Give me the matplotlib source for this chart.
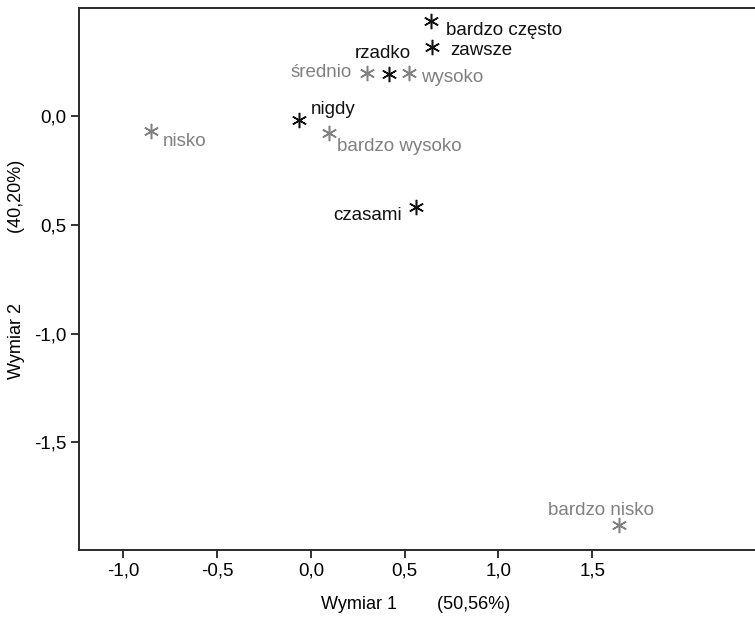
import matplotlib
matplotlib.use("Agg")
import matplotlib.pyplot as plt

plt.rcParams['font.family'] = ['Liberation Sans', 'DejaVu Sans']

# Współrzędne kategorii (wymiar 1, wymiar 2)
labels_black = ['bardzo często', 'zawsze', 'rzadko', 'nigdy', 'czasami']
x_black = [0.640, 0.645, 0.416, -0.064, 0.560]
y_black = [0.441, 0.320, 0.196, -0.016, -0.416]

labels_grey = ['średnio', 'wysoko', 'bardzo wysoko', 'nisko', 'bardzo nisko']
x_grey = [0.299, 0.523, 0.096, -0.853, 1.643]
y_grey = [0.200, 0.200, -0.076, -0.067, -1.880]

x_ticks = [-1.0, -0.5, 0.0, 0.5, 1.0, 1.5]
x_tick_labels = ['-1,0', '-0,5', '0,0', '0,5', '1,0', '1,5']
y_ticks = [0.0, -0.5, -1.0, -1.5]
y_tick_labels = ['0,0', '0,5', '-1,0', '-1,5']

# przesunięcia podpisów w pikselach (dx, dy, wyrównanie)
offsets_black = [(15, -10, 'left'), (18, -4, 'left'), (-6, 20, 'center'),
                 (12, 10, 'left'), (-14, -9, 'right')]
offsets_grey = [(-15, 0, 'right'), (12, -5, 'left'), (8, -14, 'left'),
                (12, -10, 'left'), (-18, 15, 'center')]

fig = plt.figure(figsize=(7.55, 6.17), dpi=100)
ax = fig.add_axes([79 / 755, 67 / 617, 690 / 755, 542 / 617])

black = '#111111'
grey = '#808080'
star = (6, 2, 0)

ax.plot(x_black, y_black, linestyle='none', marker=star, markersize=11,
        markeredgewidth=1.1, color=black)
ax.plot(x_grey, y_grey, linestyle='none', marker=star, markersize=11,
        markeredgewidth=1.1, color=grey)

for lab, x, y, (dx, dy, ha) in zip(labels_black, x_black, y_black, offsets_black):
    ax.annotate(lab, (x, y), xytext=(dx, dy), textcoords='offset pixels',
                ha=ha, va='center', fontsize=13.5, color=black)
for lab, x, y, (dx, dy, ha) in zip(labels_grey, x_grey, y_grey, offsets_grey):
    ax.annotate(lab, (x, y), xytext=(dx, dy), textcoords='offset pixels',
                ha=ha, va='center', fontsize=13.5, color=grey)

ax.set_xlim(-1.237, 2.443)
ax.set_ylim(-1.995, 0.499)

ax.set_xticks(x_ticks)
ax.set_xticklabels(x_tick_labels)
ax.set_yticks(y_ticks)
ax.set_yticklabels(y_tick_labels)
ax.tick_params(direction='out', length=6, width=1.3, labelsize=13.5,
               pad=3, colors='#222222', labelcolor='black')

for side in ['left', 'bottom', 'top']:
    ax.spines[side].set_color('#2a2a2a')
    ax.spines[side].set_linewidth(1.4)
ax.spines['right'].set_visible(False)

ax.set_xlabel('Wymiar 1        (50,56%)', fontsize=13)
ax.set_ylabel('Wymiar 2              (40,20%)', fontsize=13)
ax.xaxis.set_label_coords(0.488, -0.085)
ax.yaxis.set_label_coords(-0.078, 0.517)

fig.savefig('out.png', dpi=100)
